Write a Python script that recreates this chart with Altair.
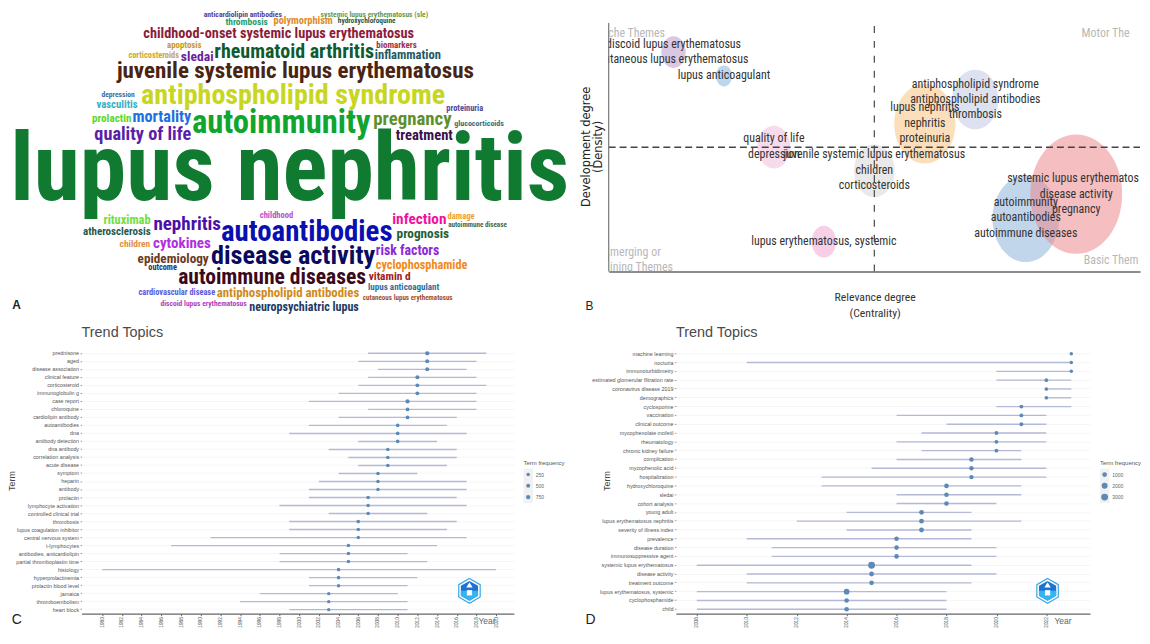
import altair as alt
import pandas as pd

NARROW = "Roboto Condensed"
ARIAL = "Liberation Sans"

# ---------- A: word cloud ----------
words = ["anticardiolipin antibodies","systemic lupus erythematosus (sle)","thrombosis","polymorphism","hydroxychloroquine",
"childhood-onset systemic lupus erythematosus","apoptosis","biomarkers","corticosteroids","sledai","rheumatoid arthritis",
"inflammation","juvenile systemic lupus erythematosus","antiphospholipid syndrome","depression","vasculitis","proteinuria",
"prolactin","mortality","autoimmunity","pregnancy","glucocorticoids","quality of life","treatment","lupus nephritis",
"childhood","damage","rituximab","nephritis","infection","autoantibodies","autoimmune disease","atherosclerosis","prognosis",
"cytokines","children","disease activity","risk factors","epidemiology","cyclophosphamide","outcome","autoimmune diseases",
"vitamin d","lupus anticoagulant","cardiovascular disease","antiphospholipid antibodies","cutaneous lupus erythematosus",
"discoid lupus erythematosus","neuropsychiatric lupus"]
word_left = [560,882,618,750,925,396,458,1033,353,497,592,1030,323,385,278,265,1225,253,366,528,1023,1247,263,1088,30,712,1228,285,422,1078,608,1230,228,1087,420,328,583,1033,378,1030,407,490,1012,1010,380,595,995,440,683]
word_right = [772,1172,735,913,1087,1133,553,1143,490,585,1022,1208,1298,1223,370,377,1325,360,522,1015,1240,1382,520,1240,1560,805,1302,412,605,1223,1075,1390,413,1233,578,412,1025,1203,572,1283,485,1003,1126,1205,590,985,1242,677,985]
word_y = [44,44,66,64,64,103,135,135,167,171,158,165,215,288,285,318,326,358,354,372,360,375,404,410,519,650,651,665,675,660,700,680,701,707,733,736,773,758,780,798,810,836,835,866,880,885,900,918,926]
word_color = ["#5b3d8f","#6f9a45","#1f9d6b","#e08a2a","#2f5a50","#8c1c3a","#c89a1d","#a0304d","#c8a83c","#6a1fa0","#0f5a2e","#1f5a66","#4a2410","#c8d61e","#3f6f99","#35b0c8","#4a4a9a","#5ad82e","#1e6fe0","#0fa52e","#5f8f2a","#2f6f80","#5a20a8","#3a0f4a","#0f7a30","#c050d0","#f0a030","#6fe03a","#4a10a8","#f010a0","#0a10b0","#3f6a50","#1f5a50","#1f5f35","#b030e0","#e0904a","#0a0a60","#8a2ad8","#6b3a20","#f08a20","#303060","#3a0a1a","#a02020","#2f6fa0","#5a5ae0","#d08a20","#a05030","#b040c0","#1f3a60"]

char_w = dict(a=.556,b=.611,c=.556,d=.611,e=.556,f=.333,g=.611,h=.611,i=.278,j=.278,k=.556,l=.278,m=.889,n=.611,o=.611,p=.611,q=.611,r=.389,s=.556,t=.333,u=.611,v=.556,w=.778,x=.556,y=.556,z=.5)
def em_width(s):
    return sum(char_w.get(c, .28) for c in s) * 0.83

wdf = pd.DataFrame({"word": words, "color": word_color})
wdf["x"] = [(l + r) / 2 / 2.727 for l, r in zip(word_left, word_right)]
wdf["y"] = [v / 3 for v in word_y]
wdf["size"] = [(r - l) / 2.727 / em_width(w) for w, l, r in zip(words, word_left, word_right)]

A_W, A_H = 493, 259.2
xa = alt.Scale(domain=[82, 575], nice=False, zero=False)
ya = alt.Scale(domain=[273, 13.8], nice=False, zero=False)
word_layer = alt.Chart(wdf).mark_text(font=NARROW, fontWeight="bold", baseline="middle").encode(
    x=alt.X("x:Q", scale=xa, axis=None),
    y=alt.Y("y:Q", scale=ya, axis=None),
    text="word:N",
    size=alt.Size("size:Q", scale=None, legend=None),
    color=alt.Color("color:N", scale=None, legend=None),
)
def letter(ch, x, y, size, weight="bold"):
    return alt.Chart(pd.DataFrame({"t": [ch]})).mark_text(font=ARIAL, fontSize=size, fontWeight=weight, color="#222", baseline="middle", align="center").encode(
        text="t:N", x=alt.value(x), y=alt.value(y))
panel_a = alt.layer(word_layer, letter("A", -65.5, 293.3, 12)).properties(width=A_W, height=A_H)

# ---------- B: thematic map ----------
cl_x = [12.2,21.7,31.1,40.5,50.0,59.5,69.0,78.5,88.0]
cl_y = [88.3,78.7,50.1,12.0,40.5,59.5,69.2,21.2,31.1]
cl_h = [32,21,43,32,53,80,60,87,120]
cl_col = ["#b48fc8","#7fb0d8","#efb8dc","#f0a0d0","#d4d4d4","#f8c078","#bcc4e2","#86aed8","#ec7f86"]
bub = pd.DataFrame({"x": cl_x, "y": cl_y, "s": [h*h for h in cl_h], "c": cl_col})

lab_text = ["discoid lupus erythematosus","cutaneous lupus erythematosus","lupus anticoagulant","quality of life","depression",
"lupus erythematosus, systemic","juvenile systemic lupus erythematosus","children","corticosteroids","lupus nephritis","nephritis","proteinuria",
"antiphospholipid syndrome","antiphospholipid antibodies","thrombosis","autoimmunity","autoantibodies","autoimmune diseases",
"disease activity","pregnancy"]
lab_x = [12.2,12.2,21.7,31.1,31.1,40.5,50,50,50,59.5,59.5,59.5,69,69,69,78.5,78.5,78.5,88,88]
lab_y = [91.5,85.5,78.9,53.6,47.2,12.4,47.2,40.8,34.8,66.1,59.7,53.7,75.6,69.6,63.2,28,22,15.6,31.2,25.2]
lab = pd.DataFrame({"t": lab_text, "x": lab_x, "y": lab_y})
# this label runs off the panel's right edge, as in the source figure
cut_lab = pd.DataFrame({"t": ["systemic lupus erythematosus"], "x": [75.0], "y": [37.6]})

q_text = ["Niche Themes","Motor Themes","Basic Themes","Emerging or","Declining Themes"]
q_x = [10.6,89.0,89.4,9.8,12.1]
q_y = [96.1,96.1,4.5,7.9,1.6]
q_align = ["right","left","left","right","right"]
quad = pd.DataFrame({"t": q_text, "x": q_x, "y": q_y, "a": q_align})

xb = alt.Scale(domain=[0, 100], nice=False, zero=False)
yb = alt.Scale(domain=[0, 103.68], nice=False, zero=False)
ax_xb = alt.Axis(title=["Relevance degree", "(Centrality)"], labels=False, ticks=False, grid=False,
        domainColor="#666", domainWidth=1.5, titleFont=NARROW, titleFontSize=11.8, titleFontWeight="normal", titleColor="#333",
        titleLineHeight=16, titleX=267.6, titleY=20)
ax_yb = alt.Axis(title=["Development degree", "(Density)"], labels=False, ticks=False, grid=False, domain=False,
        titleFont="DejaVu Sans", titleFontSize=11.5, titleFontWeight="normal", titleColor="#222", titleLineHeight=12, titleX=-17, titleY=133.3)
ELLIPSE = "M-0.77,0A0.77,1,0,1,1,0.77,0A0.77,1,0,1,1,-0.77,0Z"
bub_layer = alt.Chart(bub).mark_point(shape=ELLIPSE, filled=True, opacity=0.5, stroke=None).encode(
    x=alt.X("x:Q", scale=xb, axis=ax_xb),
    y=alt.Y("y:Q", scale=yb, axis=ax_yb),
    size=alt.Size("s:Q", scale=None, legend=None),
    color=alt.Color("c:N", scale=None, legend=None),
)
rule_v = alt.Chart(pd.DataFrame({"x": [50], "y": [0], "y2": [100]})).mark_rule(color="#555", strokeWidth=1.3, strokeDash=[7, 8]).encode(
    x=alt.X("x:Q", scale=xb, axis=ax_xb), y=alt.Y("y:Q", scale=yb, axis=ax_yb), y2="y2:Q")
rule_h = alt.Chart(pd.DataFrame({"y": [50], "x": [0], "x2": [100]})).mark_rule(color="#444", strokeWidth=1.3, strokeDash=[7, 4]).encode(
    y=alt.Y("y:Q", scale=yb, axis=ax_yb), x=alt.X("x:Q", scale=xb, axis=ax_xb), x2="x2:Q")
rule_a = alt.Chart(pd.DataFrame({"x": [0], "y": [0], "y2": [100]})).mark_rule(color="#777", strokeWidth=1.2).encode(
    x=alt.X("x:Q", scale=xb, axis=ax_xb), y=alt.Y("y:Q", scale=yb, axis=ax_yb), y2="y2:Q")
lab_layer = alt.Chart(lab).mark_text(font=NARROW, fontSize=12, color="#333", baseline="middle", align="center", clip=True).encode(
    x=alt.X("x:Q", scale=xb, axis=ax_xb), y=alt.Y("y:Q", scale=yb, axis=ax_yb), text="t:N")
cut_layer = alt.Chart(cut_lab).mark_text(font=NARROW, fontSize=12, color="#333", baseline="middle", align="left", limit=136, ellipsis=" ").encode(
    x=alt.X("x:Q", scale=xb, axis=ax_xb), y=alt.Y("y:Q", scale=yb, axis=ax_yb), text="t:N")
quad_right = alt.Chart(quad[quad.a == "right"]).mark_text(font=NARROW, fontSize=12, color="#b8b8b8", baseline="middle", align="right", clip=True).encode(
    x=alt.X("x:Q", scale=xb, axis=ax_xb), y=alt.Y("y:Q", scale=yb, axis=ax_yb), text="t:N")
quad_left = alt.Chart(quad[quad.a == "left"]).mark_text(font=NARROW, fontSize=12, color="#b8b8b8", baseline="middle", align="left", limit=60, ellipsis=" ").encode(
    x=alt.X("x:Q", scale=xb, axis=ax_xb), y=alt.Y("y:Q", scale=yb, axis=ax_yb), text="t:N")
panel_b = alt.layer(bub_layer, rule_v, rule_h, rule_a, lab_layer, cut_layer, quad_left, quad_right, letter("B", -19.4, 294.3, 12, "normal")).properties(width=534.6, height=259.2)

# ---------- C / D: trend topics ----------
c_terms = ["prednisone","aged","disease association","clinical feature","corticosteroid","immunoglobulin g","case report","chloroquine","cardiolipin antibody","autoantibodies","dna","antibody detection","dna antibody","correlation analysis","acute disease","symptom","heparin","antibody","prolactin","lymphocyte activation","controlled clinical trial","thrombosis","lupus coagulation inhibitor","central nervous system","t-lymphocytes","antibodies, anticardiolipin","partial thromboplastin time","histology","hyperprolactinemia","prolactin blood level","jamaica","thromboembolism","heart block"]
c_start = [2007,2006,2008,2007,2006,2004,2001,2007,2004,2001,1999,2006,2003,2005,2006,2004,2002,2001,2001,1998,2003,1999,1999,1991,1987,1998,1998,1980,2001,2001,1996,1994,1999]
c_med = [2013,2013,2013,2012,2012,2012,2011,2011,2011,2010,2010,2010,2009,2009,2009,2008,2008,2008,2007,2007,2007,2006,2006,2006,2005,2005,2005,2004,2004,2004,2003,2003,2003]
c_end = [2019,2018,2017,2018,2019,2018,2018,2018,2016,2015,2017,2014,2016,2016,2015,2012,2017,2017,2016,2017,2013,2016,2015,2017,2014,2011,2013,2020,2012,2011,2010,2011,2011]
c_freq = [670,530,530,530,420,420,670,350,350,300,300,300,250,250,250,200,200,200,280,250,250,300,220,220,220,200,200,250,220,220,170,140,110]

d_terms = ["machine learning","nocturia","immunoturbidimetry","estimated glomerular filtration rate","coronavirus disease 2019","demographics","cyclosporine","vaccination","clinical outcome","mycophenolate mofetil","rheumatology","chronic kidney failure","complication","mycophenolic acid","hospitalization","hydroxychloroquine","sledai","cohort analysis","young adult","lupus erythematosus nephritis","severity of illness index","prevalence","disease duration","immunosuppressive agent","systemic lupus erythematosus","disease activity","treatment outcome","lupus erythematosus, systemic","cyclophosphamide","child"]
d_start = [2023,2010,2020,2020,2022,2022,2020,2016,2018,2017,2016,2017,2016,2015,2013,2013,2016,2016,2014,2012,2014,2010,2011,2011,2008,2010,2010,2008,2008,2008]
d_med = [2023,2023,2023,2022,2022,2022,2021,2021,2021,2020,2020,2020,2019,2019,2019,2018,2018,2018,2017,2017,2017,2016,2016,2016,2015,2015,2015,2014,2014,2014]
d_end = [2023,2023,2023,2023,2023,2023,2023,2022,2022,2022,2022,2021,2021,2022,2022,2021,2021,2020,2019,2021,2019,2019,2020,2020,2019,2020,2019,2018,2018,2018]
d_freq = [200,200,200,316,316,316,446,446,446,446,446,446,770,770,770,925,925,925,1090,1090,1090,925,925,925,3000,1090,925,1840,925,925]

HEX = "M0,-1L0.866,-0.5L0.866,0.5L0,1L-0.866,0.5L-0.866,-0.5Z"
HEX_LOW = "M-0.866,0L0.866,0L0.866,0.5L0,1L-0.866,0.5Z"

def trend(terms, start, med, end, freq, domain, width, years, sdomain, srange, legend_vals, legend_x, lx, letter_ch, letter_x, title_x):
    df = pd.DataFrame({"term": terms, "start": start, "med": med, "end": end, "freq": freq})
    xs = alt.Scale(domain=domain, nice=False, zero=False)
    ys = alt.Scale(domain=terms)
    size_scale = alt.Scale(domain=sdomain, range=srange)
    ax_x = alt.Axis(values=years, format="d", labelAngle=270, labelFontSize=4.8, labelFont=ARIAL, labelColor="#555",
            tickSize=2, tickColor="#666", domainColor="#666", domainWidth=1.3, grid=False, labelPadding=1,
            title="Year", titleFont=ARIAL, titleFontSize=8.5, titleFontWeight="normal", titleColor="#666", titleX=title_x, titleY=3)
    ax_y = alt.Axis(labelFontSize=5.4, labelFont=ARIAL, labelColor="#555", labelLimit=200, tickSize=1.5, tickColor="#999",
            labelPadding=1.5, domain=False, grid=True, gridColor="#f3f3f3", gridWidth=0.8,
            title="Term", titleFont=ARIAL, titleFontSize=9, titleFontWeight="normal", titleColor="#444", titleX=-65, titleY=132)
    seg = alt.Chart(df).mark_rule(color="#b3b9d6", strokeWidth=1.4).encode(
        x=alt.X("start:Q", scale=xs, axis=ax_x),
        x2="end:Q",
        y=alt.Y("term:N", sort=terms, scale=ys, axis=ax_y),
    )
    pts = alt.Chart(df).mark_circle(color="#5d89b6", opacity=1).encode(
        x=alt.X("med:Q", scale=xs, axis=ax_x),
        y=alt.Y("term:N", sort=terms, scale=ys, axis=ax_y),
        size=alt.Size("freq:Q", scale=size_scale, legend=None),
    )
    one = pd.DataFrame({"v": [1]})
    def mark(shape, size, fill, stroke=None, sw=0, dy=0):
        kw = dict(stroke=stroke, strokeWidth=sw) if stroke else dict(stroke=None)
        return alt.Chart(one).mark_point(shape=shape, filled=True, fill=fill, opacity=1, **kw).encode(
            x=alt.value(lx), y=alt.value(243 + dy), size=alt.value(size))
    logo = [mark(HEX, 620, "#ffffff", "#35a7e8", 1.2), mark(HEX, 400, "#1f73d0"), mark(HEX_LOW, 400, "#35b4ee"),
            mark("square", 28, "#ffffff", dy=2), mark("triangle-up", 40, "#ffffff", dy=-6)]
    # legend drawn from the same size scale
    key_bg = alt.Chart(one).mark_rect(color="#f1f1f1").encode(
        x=alt.value(legend_x), x2=alt.value(legend_x + 9.5), y=alt.value(120), y2=alt.value(154.5))
    key_title = alt.Chart(pd.DataFrame({"t": ["Term frequency"]})).mark_text(font=ARIAL, fontSize=6, color="#555", align="left", baseline="middle").encode(
        text="t:N", x=alt.value(legend_x), y=alt.value(114.7))
    keys = []
    for i, v in enumerate(legend_vals):
        kd = pd.DataFrame({"v": [v], "t": [str(v)]})
        ky = 126 + 11.35 * i
        keys.append(alt.Chart(kd).mark_circle(color="#5d89b6", opacity=1).encode(
            x=alt.value(legend_x + 4.7), y=alt.value(ky), size=alt.Size("v:Q", scale=size_scale, legend=None)))
        keys.append(alt.Chart(kd).mark_text(font=ARIAL, fontSize=5, color="#666", align="left", baseline="middle").encode(
            x=alt.value(legend_x + 12.3), y=alt.value(ky), text="t:N"))
    return alt.layer(seg, pts, *logo, key_bg, key_title, *keys, letter(letter_ch, letter_x, 272, 14, "normal")).properties(
        width=width, height=266,
        title=alt.TitleParams("Trend Topics", anchor="start", frame="group", font=ARIAL, fontSize=14.5, fontWeight="normal", color="#4a4a4a", offset=9))

panel_c = trend(c_terms, c_start, c_med, c_end, c_freq, [1977.9, 2021.8], 435, list(range(1980, 2021, 2)),
                [100, 750], [11, 48], [250, 500, 750], 444.7, 390.3, "C", -65.3, 407.5)
panel_d = trend(d_terms, d_start, d_med, d_end, d_freq, [2007.16, 2023.75], 416.7, list(range(2008, 2023, 2)),
                [200, 3000], [11, 52], [1000, 2000, 3000], 426.7, 374, "D", -86, 389)

row1 = alt.hconcat(panel_a, panel_b, spacing=37.4, bounds="flush")
row2 = alt.hconcat(panel_c, panel_d, spacing=163, bounds="flush")
chart = alt.vconcat(row1, row2, spacing=5.5).properties(padding=0).configure_view(stroke=None)
chart.save("out.html", embed_options={"renderer": "svg", "actions": False})
